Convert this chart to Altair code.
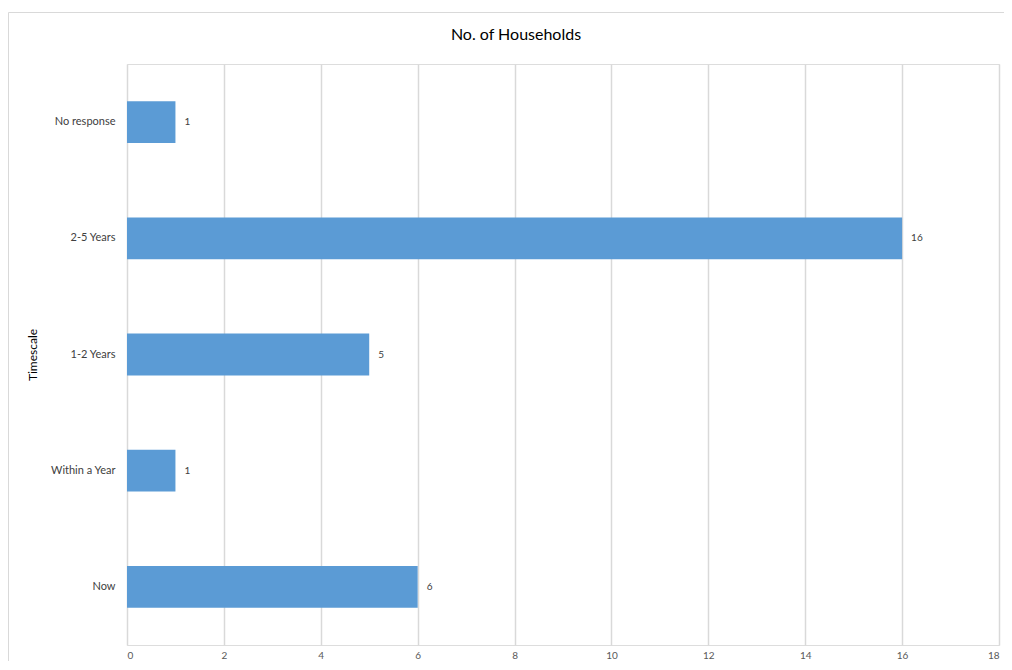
import altair as alt
import pandas as pd

categories = ["No response", "2-5 Years", "1-2 Years", "Within a Year", "Now"]
values = [1, 16, 5, 1, 6]
x_ticks = [0, 2, 4, 6, 8, 10, 12, 14, 16, 18]
chart_title = "No. of Households"

df = pd.DataFrame({"Timescale": categories, "Households": values})

FONT = "Lato"
W, H = 872, 581

base = alt.Chart(df)
one = pd.DataFrame({"t": [chart_title]})

border_top = alt.Chart(one).mark_rule(color="#d9d9d9", strokeWidth=1, clip=False).encode(
    x=alt.value(-118.5), x2=alt.value(W + 5), y=alt.value(-51.5)
)
border_left = alt.Chart(one).mark_rule(color="#d9d9d9", strokeWidth=1, clip=False).encode(
    x=alt.value(-118.5), y=alt.value(-51.5), y2=alt.value(H + 30)
)

title = alt.Chart(one).mark_text(
    font=FONT, fontSize=16, color="#000000", align="center", baseline="middle"
).encode(
    x=alt.value(389), y=alt.value(-29), text="t:N"
)

bars = base.mark_bar(color="#5B9BD5").encode(
    x=alt.X("Households:Q",
            scale=alt.Scale(domain=[0, 18], nice=False),
            axis=alt.Axis(values=x_ticks, title=None, domain=False, ticks=False,
                          grid=True, gridColor="#d9d9d9", gridWidth=1.5,
                          labelFont=FONT, labelFontSize=10, labelColor="#595959",
                          labelPadding=5)),
    y=alt.Y("Timescale:N", sort=categories,
            scale=alt.Scale(paddingInner=0.64, paddingOuter=0.32),
            axis=alt.Axis(title="Timescale", domain=False, ticks=False, grid=False,
                          labelFont=FONT, labelFontSize=11, labelColor="#404040",
                          labelPadding=12,
                          titleFont=FONT, titleFontSize=12, titleFontWeight="normal",
                          titleColor="#000000", titleX=-88, titleY=H / 2,
                          titleAngle=-90))
)

labels = base.mark_text(align="left", dx=9, font=FONT, fontSize=10, color="#404040").encode(
    x=alt.X("Households:Q"),
    y=alt.Y("Timescale:N", sort=categories),
    text=alt.Text("Households:Q")
)

chart = alt.layer(border_top, border_left, title, bars, labels).properties(
    width=W, height=H,
    padding={"left": 119, "top": 56, "right": 5, "bottom": 16},
    autosize=alt.AutoSizeParams(type="none")
).configure_view(stroke=None).configure(background="white")

chart.save("out.html", embed_options={"renderer": "svg", "actions": False})
